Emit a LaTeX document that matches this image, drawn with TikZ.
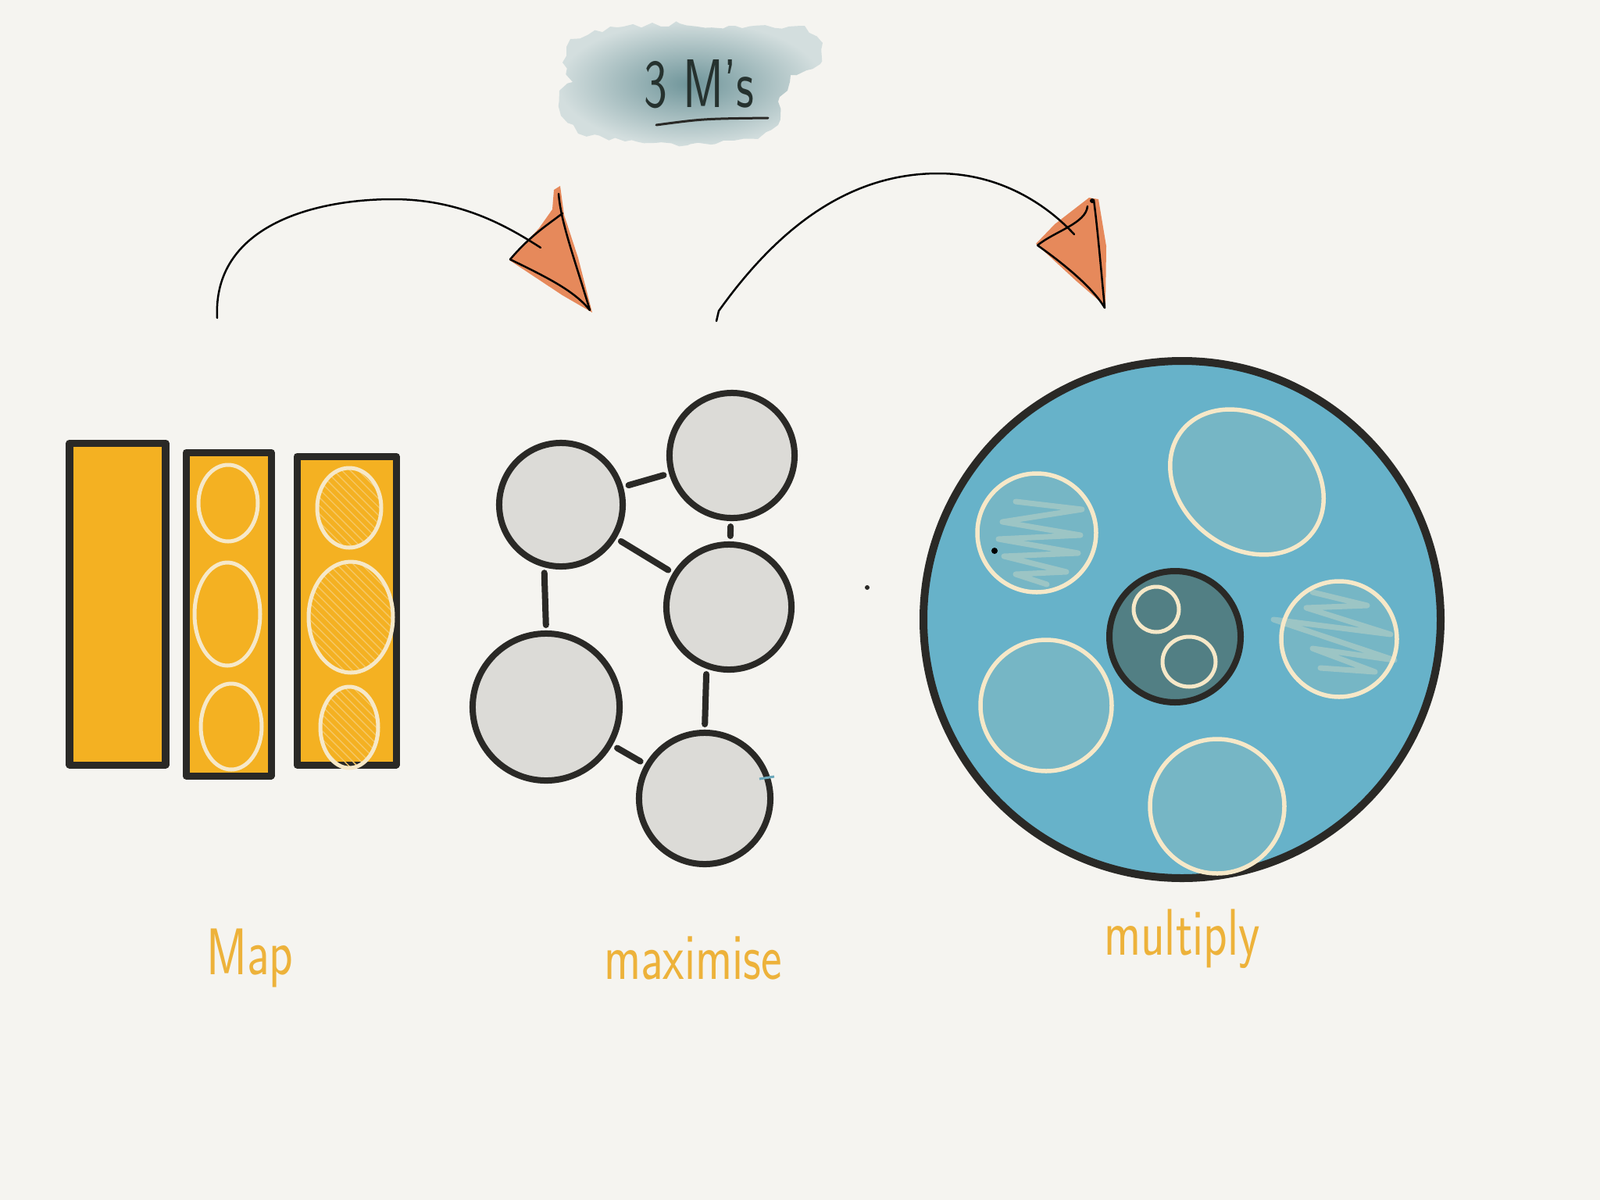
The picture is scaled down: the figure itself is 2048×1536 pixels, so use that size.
\documentclass[tikz,border=0pt]{standalone}
\usetikzlibrary{patterns,decorations.pathmorphing}

\definecolor{fond}{HTML}{F5F4F0}
\definecolor{encre}{HTML}{2A2926}
\definecolor{jaune}{HTML}{F4B122}
\definecolor{creme}{HTML}{F6E8C8}
\definecolor{gris}{HTML}{DCDBD7}
\definecolor{bleu}{HTML}{67B2C9}
\definecolor{bleuClair}{HTML}{76B6C5}
\definecolor{bleuFonce}{HTML}{527F84}
\definecolor{orangeFleche}{HTML}{E5804F}
\definecolor{orangeTexte}{HTML}{EDB23A}
\definecolor{tealFonce}{HTML}{6F959A}
\definecolor{tealClair}{HTML}{D3DEDE}

\begin{document}
\begin{tikzpicture}[x=0.01cm,y=-0.01cm]
    \tikzstyle{jauneEncadre}=[draw=encre, line width=0.09cm, line join=round, fill=jaune]
    \tikzstyle{cremeRond}=[draw=creme, line width=0.05cm]
    \tikzstyle{cremeHachure}=[cremeRond, pattern=north west lines, pattern color=creme!40!jaune]
    \tikzstyle{grisRond}=[circle, draw=encre, line width=0.08cm, fill=gris, inner sep=0pt]
    \tikzstyle{lien}=[draw=encre, line width=0.08cm, line cap=round, shorten <=0.07cm, shorten >=0.07cm]
    \tikzstyle{bleuRond}=[draw=creme, line width=0.055cm, fill=bleuClair]
    \tikzstyle{griffonnage}=[draw=creme, line width=0.07cm, opacity=.3, line join=round, line cap=round]
    \tikzstyle{trait}=[draw=black, line width=0.025cm, line cap=round]
    \tikzstyle{pointe}=[fill=orangeFleche, opacity=.92]
    \tikzstyle{ecriture}=[text=orangeTexte, font=\sffamily\fontsize{24}{28}\selectfont, xscale=.75, inner sep=0pt]

    \fill [fond] (0,0) rectangle (2048,1536);
    \useasboundingbox (0,0) rectangle (2048,1536);

    % title
    \shade [inner color=tealFonce, outer color=tealClair, decorate,
        decoration={random steps, segment length=3pt, amplitude=1pt}]
        (730,50) -- (790,35) -- (870,30) -- (950,36) -- (1030,33) -- (1053,55) -- (1050,82)
        -- (1012,96) -- (1008,116) -- (996,130) -- (996,160) -- (970,178) -- (880,186)
        -- (800,181) -- (740,171) -- (718,148) -- (716,116) -- (733,105) -- (720,80) -- (725,60) -- cycle;
    \node [anchor=base, inner sep=0pt, text=encre!90!teal, xscale=.72,
        font=\sffamily\fontsize{25}{30}\selectfont] (titre) at (895,137) {3 M's};
    \draw [draw=encre, line width=0.03cm, line cap=round] (840,160) .. controls (900,152) .. (983,151);

    % map
    \draw [jauneEncadre] (89,567) rectangle (212,979);
    \draw [jauneEncadre] (238,579) rectangle (347,993);
    \draw [jauneEncadre] (380,584) rectangle (507,979);
    \draw [cremeRond] (292,644) ellipse [x radius=38, y radius=49];
    \draw [cremeRond] (291,786) ellipse [x radius=42, y radius=66];
    \draw [cremeRond] (296,930) ellipse [x radius=39, y radius=55];
    \draw [cremeHachure] (447,650) ellipse [x radius=41, y radius=51];
    \draw [cremeHachure] (449,790) ellipse [x radius=54, y radius=71];
    \draw [cremeHachure] (447,931) ellipse [x radius=37, y radius=52];
    \node [ecriture, anchor=base] (map) at (320,1247) {Map};

    % maximise
    \node [grisRond, minimum size=1.58cm] (A) at (718,646) {};
    \node [grisRond, minimum size=1.60cm] (B) at (937,583) {};
    \node [grisRond, minimum size=1.60cm] (C) at (933,777) {};
    \node [grisRond, minimum size=1.88cm] (D) at (699,905) {};
    \node [grisRond, minimum size=1.68cm] (E) at (902,1022) {};
    \draw [lien] (A) -- (B);
    \draw [lien] (A) -- (C);
    \draw [lien] (B) -- (C);
    \draw [lien] (A.255) -- (D.north);
    \draw [lien] (C.250) -- (E.north);
    \draw [lien] (D) -- (E);
    \draw [draw=bleu!80!gray, line width=0.03cm] (972,997) -- (991,994);
    \node [ecriture, anchor=base] (maximise) at (887,1253) {maximise};
    \fill [encre] (1110,752) circle [radius=3];

    % multiply
    \draw [draw=encre, line width=0.1cm, fill=bleu] (1513,793) circle [radius=331];
    \draw [bleuRond] (1327,682) circle [radius=76];
    \draw [griffonnage] (1300,642) -- (1385,652) -- (1283,668) -- (1383,685) -- (1278,690)
        -- (1380,708) -- (1285,712) -- (1365,732) -- (1300,735) -- (1340,748);
    \fill [black] (1273,705) circle [radius=4];
    \draw [bleuRond, rotate around={-38:(1596,617)}] (1596,617) ellipse [x radius=106, y radius=84];
    \draw [bleuRond] (1714,818) circle [radius=74];
    \draw [griffonnage] (1680,758) -- (1750,775) -- (1672,778) -- (1780,812) -- (1630,793)
        -- (1785,845) -- (1680,830) -- (1760,860) -- (1690,855);
    \draw [bleuRond] (1339,903) circle [radius=84];
    \draw [bleuRond] (1558,1032) circle [radius=86];
    \draw [draw=encre, line width=0.08cm, fill=bleuFonce] (1504,815) circle [radius=84];
    \draw [cremeRond] (1480,780) circle [radius=29];
    \draw [cremeRond] (1522,847) ellipse [x radius=34, y radius=32];
    \node [ecriture, anchor=base] (multiply) at (1513,1222) {multiply};

    % arrows
    \coordinate (depart1) at (278,407);
    \coordinate (arrivee1) at (692,317);
    \coordinate (depart2) at (917,411);
    \coordinate (arrivee2) at (1375,300);
    \fill [pointe] (652,333) -- (690,292) -- (707,268) -- (709,243) -- (717,238) -- (722,275)
        -- (740,330) -- (758,400) -- (720,378) -- cycle;
    \fill [pointe] (1326,312) -- (1350,287) -- (1394,253) -- (1406,255) -- (1416,315)
        -- (1415,392) -- (1378,360) -- cycle;
    \draw [trait] (depart1) .. controls (272,290) and (400,255) .. (503,255)
        .. controls (590,255) and (650,290) .. (arrivee1);
    \draw [trait] (653,332) .. controls (680,300) and (705,285) .. (720,273);
    \draw [trait] (653,332) .. controls (700,355) and (735,372) .. (755,397);
    \draw [trait] (755,397) .. controls (735,330) and (718,285) .. (715,248);
    \draw [trait] (depart2) -- (920,398) .. controls (990,300) and (1080,222) .. (1201,222)
        .. controls (1280,222) and (1340,262) .. (arrivee2);
    \draw [trait] (1328,314) .. controls (1350,296) and (1390,286) .. (1392,264);
    \draw [trait] (1328,314) .. controls (1365,340) and (1400,370) .. (1414,394);
    \draw [trait] (1414,394) .. controls (1408,330) and (1404,285) .. (1400,256);
    \fill [black] (1398,257) circle [radius=3];
\end{tikzpicture}
\end{document}
